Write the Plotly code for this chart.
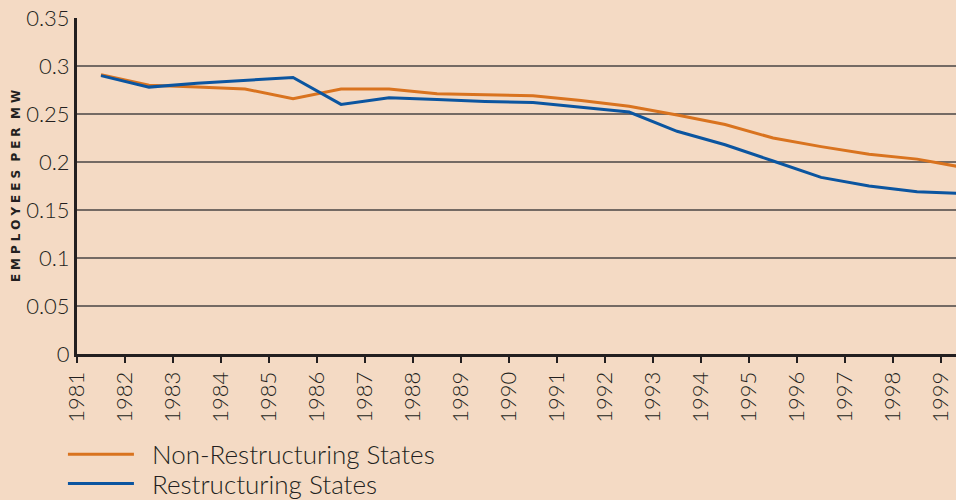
import plotly.graph_objects as go

years = list(range(1981, 2000))
non_restructuring = [0.291, 0.280, 0.278, 0.276, 0.266, 0.276, 0.276, 0.271, 0.270, 0.269,
                     0.264, 0.258, 0.249, 0.239, 0.225, 0.216, 0.208, 0.203, 0.194]
restructuring = [0.290, 0.278, 0.282, 0.285, 0.288, 0.260, 0.267, 0.265, 0.263, 0.262,
                 0.257, 0.252, 0.232, 0.218, 0.201, 0.184, 0.175, 0.169, 0.167]
tick_years = list(range(1981, 2000))

xpos = [y + 0.5 for y in years]

ORANGE = "#D9731F"
BLUE = "#0B55A0"
BG = "#F4DAC4"
TXT = "#231F20"
FONT = "Lato"

fig = go.Figure()
fig.add_trace(go.Scatter(x=xpos, y=non_restructuring, mode="lines",
                         name="\u2002Non-Restructuring States", legend="legend",
                         line=dict(color=ORANGE, width=3)))
fig.add_trace(go.Scatter(x=xpos, y=restructuring, mode="lines",
                         name="\u2002Restructuring States", legend="legend2",
                         line=dict(color=BLUE, width=3)))

sp = "\u2004"
ytitle = sp.join(list("EMPLOYEES")) + "\u2002\u2009" + sp.join(list("PER")) + "\u2002\u2009" + sp.join(list("MW"))

legend_style = dict(xanchor="left", yanchor="top", bgcolor="rgba(0,0,0,0)",
                    font=dict(size=26, family=FONT, color=TXT, weight=300), itemwidth=66)

fig.update_layout(
    width=956, height=500,
    margin=dict(l=77, r=0, t=18, b=146, autoexpand=False),
    paper_bgcolor=BG, plot_bgcolor=BG,
    font=dict(family=FONT, color=TXT, size=21, weight=300),
    showlegend=True,
    legend=dict(x=-0.016, y=-0.229, **legend_style),
    legend2=dict(x=-0.016, y=-0.3155, **legend_style),
    xaxis=dict(range=[1981, 1999.31], tickvals=tick_years, ticktext=[str(t) for t in tick_years],
               tickangle=-90, showgrid=False, zeroline=False,
               showline=True, linecolor=TXT, linewidth=3,
               ticks="outside", ticklen=6, tickwidth=2, tickcolor=TXT,
               tickfont=dict(size=22, family=FONT, color=TXT, weight=300)),
    yaxis=dict(range=[0, 0.35], dtick=0.05, tick0=0, showgrid=True,
               gridcolor="#746a64", gridwidth=1.5, zeroline=False,
               showline=True, linecolor=TXT, linewidth=3, ticks="",
               ticklabelstandoff=0,
               tickfont=dict(size=22, family=FONT, color=TXT, weight=300),
               title=dict(text=ytitle, standoff=3,
                          font=dict(size=12, family="DejaVu Sans", color=TXT, weight="bold"))),
)

fig.write_html("out.html", config={"displayModeBar": False},
               post_script="document.body.style.margin='0';")
